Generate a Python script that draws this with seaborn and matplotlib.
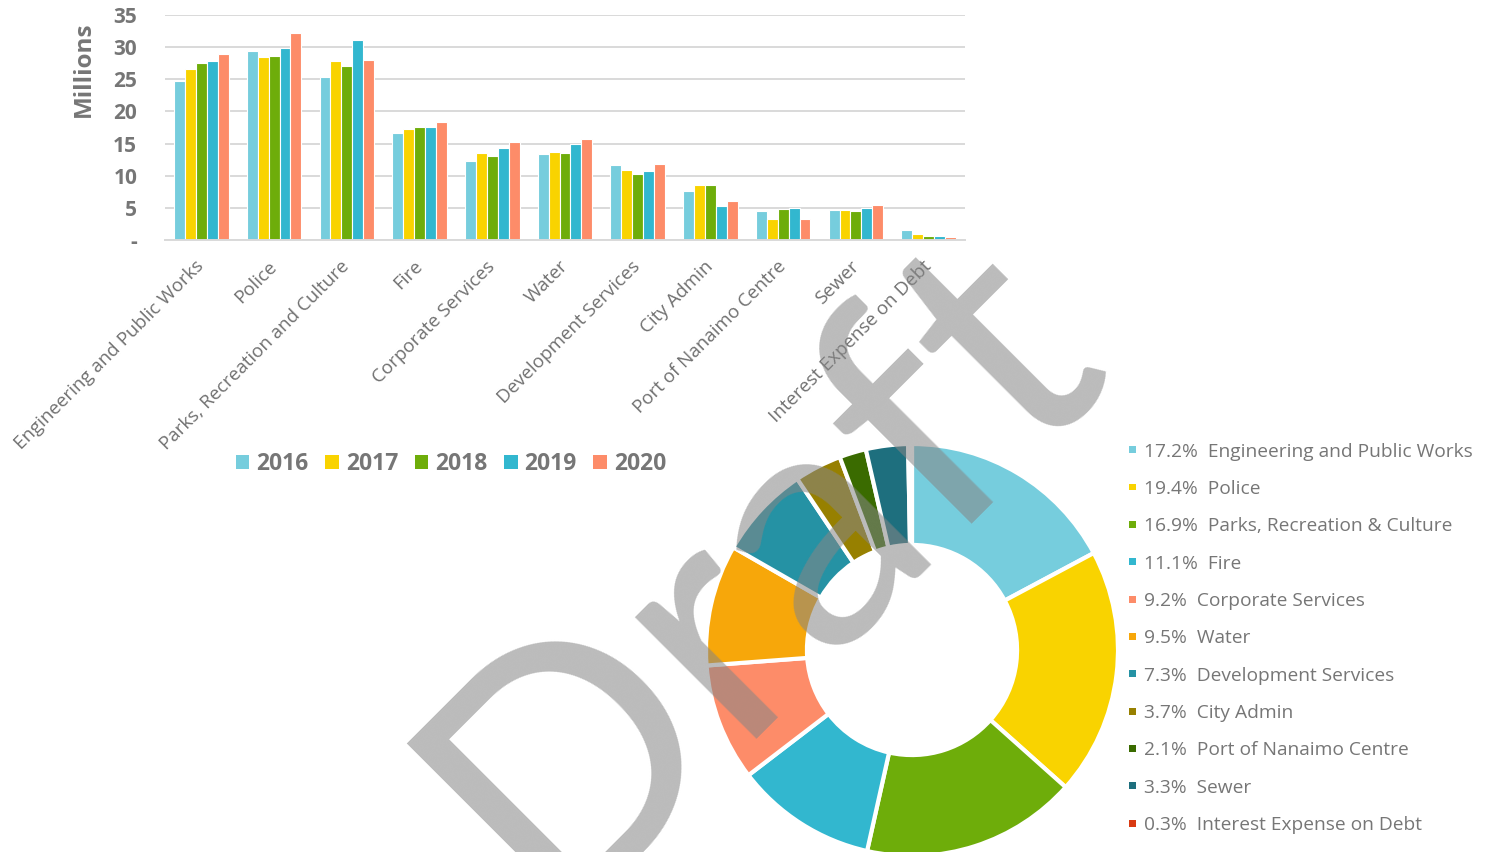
import matplotlib
matplotlib.use("Agg")
import matplotlib.pyplot as plt
import seaborn as sns
import pandas as pd
import numpy as np
from matplotlib.patches import Patch
from matplotlib.ticker import FuncFormatter

# ---------------- data ----------------
categories = ["Engineering and Public Works", "Police", "Parks, Recreation and Culture",
              "Fire", "Corporate Services", "Water", "Development Services",
              "City Admin", "Port of Nanaimo Centre", "Sewer", "Interest Expense on Debt"]
years = ["2016", "2017", "2018", "2019", "2020"]
v2016 = [24.8, 29.4, 25.3, 16.6, 12.3, 13.4, 11.7, 7.7, 4.5, 4.6, 1.6]
v2017 = [26.6, 28.5, 27.8, 17.3, 13.5, 13.7, 10.9, 8.6, 3.3, 4.6, 1.0]
v2018 = [27.5, 28.6, 27.1, 17.6, 13.1, 13.6, 10.2, 8.6, 4.9, 4.5, 0.6]
v2019 = [27.8, 29.8, 31.1, 17.6, 14.3, 15.0, 10.8, 5.3, 5.0, 5.0, 0.6]
v2020 = [28.9, 32.2, 28.0, 18.4, 15.2, 15.7, 11.9, 6.0, 3.3, 5.4, 0.4]
year_colors = ["#76CDDD", "#F9D300", "#6EAD0A", "#32B7CF", "#FD8C69"]

donut_names = ["Engineering and Public Works", "Police", "Parks, Recreation & Culture",
               "Fire", "Corporate Services", "Water", "Development Services",
               "City Admin", "Port of Nanaimo Centre", "Sewer", "Interest Expense on Debt"]
donut_pct = [17.2, 19.4, 16.9, 11.1, 9.2, 9.5, 7.3, 3.7, 2.1, 3.3, 0.3]
donut_colors = ["#76CDDD", "#F9D300", "#6EAD0A", "#32B7CF", "#FD8C69", "#F7A70A",
                "#2592A4", "#978000", "#3A6B00", "#1E6F7E", "#D93A12"]

FONT = ["Open Sans", "DejaVu Sans"]
WM_FONT = ["Lato", "DejaVu Sans"]
TXT = "#767676"

sns.set_style("white")
plt.rcParams["font.family"] = FONT

df = pd.DataFrame({
    "category": np.repeat(categories, len(years)),
    "year": np.tile(years, len(categories)),
    "value": np.array([v2016, v2017, v2018, v2019, v2020]).T.ravel(),
})

fig = plt.figure(figsize=(14.9, 8.52), dpi=100)

# ---------------- bar chart ----------------
ax = fig.add_axes([165 / 1490, 1 - 240 / 852, 800 / 1490, 225 / 852])
sns.barplot(data=df, x="category", y="value", hue="year", order=categories,
            hue_order=years, palette=year_colors, width=0.75, saturation=1,
            edgecolor="white", linewidth=0.8, ax=ax, legend=False)
ax.set_ylim(0, 35)
ax.set_xlim(-0.5, len(categories) - 0.5)
ax.set_yticks(range(0, 36, 5))
ax.yaxis.set_major_formatter(FuncFormatter(lambda v, p: "-" if v == 0 else f"{v:.0f}"))
ax.grid(axis="y", color="#D9D9D9", linewidth=1.4)
ax.set_axisbelow(True)
for s in ["top", "right", "left"]:
    ax.spines[s].set_visible(False)
ax.spines["bottom"].set_color("#D9D9D9")
ax.spines["bottom"].set_linewidth(1.4)
ax.tick_params(axis="y", length=0, pad=20, labelsize=15, labelcolor=TXT)
for t in ax.get_yticklabels():
    t.set_fontweight("bold")
ax.tick_params(axis="x", length=0, pad=17)
ax.set_xticks(range(len(categories)))
ax.set_xticklabels(categories, rotation=45, ha="right", va="center",
                   rotation_mode="anchor", fontsize=13.5, color="#707070")
ax.set_xlabel("")
ax.set_ylabel("Millions", fontsize=17.5, fontweight="bold", color=TXT)
ax.yaxis.set_label_coords(-0.086, 0.76)

bar_handles = [Patch(facecolor=c, edgecolor="none") for c in year_colors]
fig.legend(bar_handles, years, loc="center", bbox_to_anchor=(451 / 1490, 1 - 464 / 852),
           ncol=5, frameon=False, prop={"family": FONT, "weight": "bold", "size": 16.5},
           labelcolor=TXT, handlelength=0.6, handleheight=0.57, handletextpad=0.3,
           columnspacing=0.72)

# ---------------- donut ----------------
R = 206
cx, cy = 912, 650
dax = fig.add_axes([(cx - R) / 1490, 1 - (cy + R) / 852, 2 * R / 1490, 2 * R / 852])
dax.pie(donut_pct, colors=donut_colors, startangle=90, counterclock=False, radius=1,
        wedgeprops=dict(width=0.49, edgecolor="white", linewidth=3))
dax.set_xlim(-1, 1)
dax.set_ylim(-1, 1)
dax.set_aspect("equal")
dax.axis("off")

donut_labels = [f"{p}%  {n}" for p, n in zip(donut_pct, donut_names)]
donut_handles = [Patch(facecolor=c, edgecolor="none") for c in donut_colors]
fig.legend(donut_handles, donut_labels, loc="upper left",
           bbox_to_anchor=(1119 / 1490, 1 - 433 / 852), frameon=False,
           fontsize=13.8, labelcolor=TXT, handlelength=0.37, handleheight=0.18,
           handletextpad=0.45, labelspacing=1.01, borderpad=0)

# ---------------- watermark ----------------
fig.text(549 / 1490, 1 - 916 / 852, "Draft", rotation=45, rotation_mode="anchor",
         ha="left", va="baseline", fontsize=245, color="#868686", alpha=0.56,
         family=WM_FONT, zorder=10)

fig.savefig("out.png", dpi=100)
